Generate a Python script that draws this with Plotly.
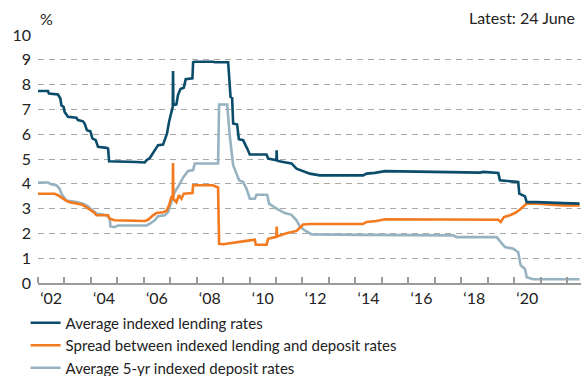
import plotly.graph_objects as go

# ---- data ----
lend_dates = ["2002-01-01","2002-05-18","2002-06-01","2002-10-04","2002-11-06","2002-11-20","2002-12-21",
              "2003-01-04","2003-02-19","2003-06-15","2003-07-07","2003-09-14","2003-10-07","2003-11-08",
              "2003-12-25","2004-01-22","2004-03-08","2004-04-09","2004-08-04","2004-08-26","2004-09-09",
              "2004-12-19","2005-09-22","2006-01-14","2006-02-07","2006-03-25","2006-05-19","2006-07-17",
              "2006-09-24","2006-10-18","2006-11-18","2006-12-16","2007-01-18","2007-02-05","2007-02-09",
              "2007-02-13","2007-03-27","2007-04-18","2007-05-22","2007-07-07","2007-08-03","2007-11-04",
              "2007-11-13","2007-12-06","2008-08-15","2008-09-08","2009-03-11","2009-03-25","2009-04-13",
              "2009-05-05","2009-05-19","2009-07-13","2009-08-06","2009-10-04","2009-10-28","2009-11-29",
              "2010-01-04","2010-08-23","2010-09-14","2011-01-06","2011-01-10","2011-01-14","2011-04-10",
              "2011-08-03","2011-10-11","2012-02-26","2012-04-12","2012-08-28","2014-04-19","2014-06-05",
              "2014-09-27","2015-02-13","2017-10-07","2018-09-17","2018-11-02","2019-05-29","2019-06-20",
              "2019-11-06","2020-02-28","2020-03-14","2020-06-01","2020-06-24","2020-11-09","2021-11-11",
              "2022-06-24"]
lend_vals = [7.74,7.74,7.64,7.60,7.44,7.17,7.10,
             6.90,6.70,6.66,6.57,6.52,6.43,6.16,
             6.12,5.83,5.76,5.49,5.45,5.42,4.91,
             4.91,4.88,4.86,4.95,5.04,5.28,5.56,
             5.58,5.76,6.03,6.50,6.97,7.10,8.55,
             7.17,7.20,7.58,7.82,7.87,8.22,8.25,
             8.90,8.92,8.92,8.90,8.90,8.25,7.50,
             7.47,6.43,6.39,5.80,5.76,5.58,5.42,
             5.18,5.18,5.02,4.95,5.35,4.93,4.88,
             4.82,4.61,4.48,4.41,4.34,4.34,4.41,
             4.44,4.51,4.45,4.45,4.48,4.44,4.14,
             4.11,4.07,3.60,3.49,3.26,3.26,3.22,
             3.20]

spread_dates = ["2002-01-01","2002-08-19","2002-10-04","2002-12-11","2003-01-28","2003-03-14","2003-06-15",
                "2003-08-23","2003-10-31","2003-12-16","2004-02-23","2004-03-18","2004-08-26","2004-09-18",
                "2004-11-25","2006-01-14","2006-03-01","2006-05-09","2006-06-24","2006-09-24","2006-11-09",
                "2006-12-16","2007-01-18","2007-02-05","2007-02-09","2007-02-13","2007-03-27","2007-05-02",
                "2007-06-05","2007-07-07","2007-11-04","2007-11-13","2008-08-15","2008-10-23","2008-11-06",
                "2009-01-01","2010-01-04","2010-03-14","2010-03-28","2010-08-23","2010-09-14","2010-12-15",
                "2011-01-06","2011-01-10","2011-01-14","2011-05-27","2011-10-11","2011-12-15","2012-01-10",
                "2012-04-12","2014-04-19","2014-06-05","2014-10-19","2015-02-13","2018-09-17","2019-05-29",
                "2019-07-01","2019-08-15","2019-11-06","2020-01-14","2020-03-23","2020-06-01","2020-06-24",
                "2020-11-09","2021-11-11","2022-06-24"]
spread_vals = [3.60,3.60,3.54,3.40,3.31,3.26,3.22,
               3.17,3.06,2.96,2.82,2.73,2.73,2.59,
               2.53,2.50,2.55,2.73,2.82,2.85,2.90,
               3.13,3.47,3.50,4.84,3.40,3.26,3.54,
               3.40,3.60,3.63,3.94,3.94,3.85,1.58,
               1.56,1.72,1.75,1.54,1.54,1.78,1.85,
               1.86,2.28,1.88,2.01,2.10,2.28,2.36,
               2.38,2.38,2.46,2.50,2.57,2.57,2.55,
               2.46,2.66,2.73,2.82,2.96,3.13,3.20,
               3.20,3.13,3.13]

dep_dates = ["2002-01-01","2002-05-18","2002-07-04","2002-09-11","2002-10-27","2002-11-20","2003-01-28",
             "2003-04-07","2003-06-15","2003-09-14","2003-11-22","2004-01-08","2004-03-18","2004-08-04",
             "2004-09-18","2004-09-27","2004-11-25","2005-01-10","2006-02-07","2006-03-25","2006-06-01",
             "2006-07-17","2006-10-18","2006-12-02","2007-01-18","2007-03-04","2007-04-18","2007-06-27",
             "2007-09-04","2007-11-13","2007-12-06","2008-10-23","2008-11-06","2009-02-25","2009-04-04",
             "2009-05-19","2009-07-05","2009-08-10","2009-10-04","2009-11-20","2010-01-04","2010-03-14",
             "2010-04-07","2010-08-31","2010-09-27","2011-01-08","2011-05-03","2011-08-03","2011-10-11",
             "2011-11-25","2012-02-03","2012-05-06","2014-04-19","2017-09-14","2017-10-30","2019-05-06",
             "2019-06-20","2019-08-29","2019-12-21","2020-02-28","2020-04-02","2020-06-01","2020-06-24",
             "2020-09-23","2022-06-24"]
dep_vals = [4.05,4.05,3.98,3.94,3.80,3.60,3.33,
            3.31,3.26,3.20,3.09,2.96,2.80,2.73,
            2.59,2.28,2.25,2.32,2.32,2.39,2.53,
            2.69,2.73,2.86,3.26,3.67,3.87,4.25,
            4.52,4.55,4.82,4.82,7.20,7.20,5.89,
            4.75,4.40,4.14,4.07,3.80,3.40,3.40,
            3.56,3.56,3.20,3.00,2.82,2.75,2.53,
            2.28,2.12,1.96,1.94,1.92,1.85,1.85,
            1.69,1.45,1.38,1.24,0.71,0.57,0.23,
            0.15,0.15]

series_names = ["Average indexed lending rates",
                "Spread between indexed lending and deposit rates",
                "Average 5-yr indexed deposit rates"]
series_colors = ["#0a4c6a", "#f47a20", "#97b2c1"]

year_ticks = [f"{y}-01-01" for y in range(2002, 2023)]
label_pos = [f"{y}-07-01" for y in range(2002, 2021, 2)]
label_text = ["\u201802", "\u201804", "\u201806", "\u201808", "\u201810",
              "\u201812", "\u201814", "\u201816", "\u201818", "\u201820"]
y_ticks = list(range(0, 11))

FONT = "Lato"
TXT = "#222222"

fig = go.Figure()
for d, v, n, c in [(lend_dates, lend_vals, series_names[0], series_colors[0]),
                   (spread_dates, spread_vals, series_names[1], series_colors[1]),
                   (dep_dates, dep_vals, series_names[2], series_colors[2])]:
    fig.add_trace(go.Scatter(x=d, y=v, name=n, mode="lines",
                             line=dict(color=c, width=2.6)))

# draw lending on top, keep legend order as in reference
fig.data = (fig.data[2], fig.data[1], fig.data[0])

fig.update_layout(
    width=582, height=376,
    margin=dict(l=38, r=1, t=35, b=93, autoexpand=False),
    paper_bgcolor="white", plot_bgcolor="white",
    font=dict(family=FONT, size=16, color=TXT),
    showlegend=True,
    legend=dict(xref="container", yref="container", x=0.044, y=0.185,
                xanchor="left", yanchor="top", traceorder="reversed",
                orientation="v",
                font=dict(family=FONT, size=15, color=TXT),
                bgcolor="rgba(0,0,0,0)", tracegroupgap=0, itemwidth=30),
    xaxis=dict(type="date", range=["2002-01-01", "2022-07-14"],
               showgrid=False, zeroline=False,
               showline=True, linecolor="#9a9a9a", linewidth=1.5,
               tickvals=label_pos, ticktext=label_text, ticks="", tickangle=0,
               tickfont=dict(family=FONT, size=16, color=TXT),
               minor=dict(tickvals=year_ticks, ticks="inside", ticklen=6,
                          tickcolor="#9a9a9a", tickwidth=1.5, showgrid=False)),
    yaxis=dict(range=[0, 10], tickvals=y_ticks, ticks="",
               showgrid=True, gridcolor="#a8a8a8", griddash="6px,5px", gridwidth=1,
               zeroline=False, showline=False, ticklabelstandoff=6,
               tickfont=dict(family=FONT, size=16, color=TXT)),
    annotations=[
        dict(text="%", xref="paper", yref="paper", x=0.0, y=1.0, yshift=17,
             xanchor="left", yanchor="middle", showarrow=False,
             font=dict(family=FONT, size=16, color=TXT)),
        dict(text="Latest: 24 June", xref="paper", yref="paper", x=1.0, y=1.0, xshift=-4, yshift=18,
             xanchor="right", yanchor="middle", showarrow=False,
             font=dict(family=FONT, size=16, color=TXT)),
    ],
)

fig.write_html("out.html", config={"displayModeBar": False},
               post_script="document.body.style.margin='0';document.body.style.overflow='hidden';")
